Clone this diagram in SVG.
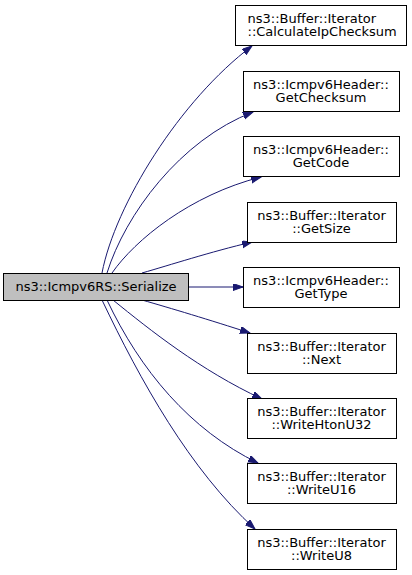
<svg xmlns="http://www.w3.org/2000/svg" width="412" height="575" viewBox="0 0 412 575">
<style>
.node rect{fill:#ffffff;stroke:#000000;stroke-width:1}
.node.main rect{fill:#bfbfbf}
.node text{font-family:"DejaVu Sans",sans-serif;font-size:13px;fill:#000000;text-anchor:middle}
.node text.l{text-anchor:start}
.edges path{fill:none;stroke:#191970;stroke-width:1;marker-end:url(#arr)}
</style>
<defs>
<marker id="arr" markerUnits="userSpaceOnUse" markerWidth="11" markerHeight="8" refX="10" refY="3.5" orient="auto">
<path d="M0,0 L10,3.5 L0,7 z" fill="#191970" stroke="#191970" stroke-width="1"/>
</marker>
</defs>
<rect width="412" height="575" fill="#ffffff"/>
<g class="edges" id="edges">
<path d="M102,273 C115,205 180,100 252,46"/>
<path d="M107,273 C125,215 180,140 253,112"/>
<path d="M112,273 C135,240 190,195 261,177"/>
<path d="M142,273 C170,265 210,252 252,242"/>
<path d="M188,287 L243,287"/>
<path d="M142,300 C170,308 210,320 250,333"/>
<path d="M113,300 C150,330 200,370 262,399"/>
<path d="M107,300 C140,370 190,430 258,463"/>
<path d="M102,300 C140,380 190,470 255,529"/>
</g>
<g class="node main" id="n0"><rect x="3.5" y="273.5" width="185" height="27"/><text x="96" y="291">ns3::Icmpv6RS::Serialize</text></g>
<g class="node" id="n1"><rect x="235.5" y="5.5" width="171" height="40"/><text class="l" x="247.5" y="22.5">ns3::Buffer::Iterator</text><text class="l" x="247.5" y="36">::CalculateIpChecksum</text></g>
<g class="node" id="n2"><rect x="243.5" y="71.5" width="156" height="40"/><text x="321" y="88.5">ns3::Icmpv6Header::</text><text x="321" y="102">GetChecksum</text></g>
<g class="node" id="n3"><rect x="243.5" y="136.5" width="156" height="40"/><text x="321" y="153.5">ns3::Icmpv6Header::</text><text x="321" y="167">GetCode</text></g>
<g class="node" id="n4"><rect x="247.5" y="202.5" width="149" height="40"/><text x="321.5" y="219.5">ns3::Buffer::Iterator</text><text x="321.5" y="233">::GetSize</text></g>
<g class="node" id="n5"><rect x="243.5" y="267.5" width="156" height="40"/><text x="321" y="284.5">ns3::Icmpv6Header::</text><text x="321" y="298">GetType</text></g>
<g class="node" id="n6"><rect x="247.5" y="333.5" width="149" height="40"/><text x="321.5" y="350.5">ns3::Buffer::Iterator</text><text x="321.5" y="364">::Next</text></g>
<g class="node" id="n7"><rect x="247.5" y="398.5" width="149" height="40"/><text x="321.5" y="415.5">ns3::Buffer::Iterator</text><text x="321.5" y="429">::WriteHtonU32</text></g>
<g class="node" id="n8"><rect x="247.5" y="463.5" width="149" height="40"/><text x="321.5" y="480.5">ns3::Buffer::Iterator</text><text x="321.5" y="494">::WriteU16</text></g>
<g class="node" id="n9"><rect x="247.5" y="529.5" width="149" height="40"/><text x="321.5" y="546.5">ns3::Buffer::Iterator</text><text x="321.5" y="560">::WriteU8</text></g>
</svg>
